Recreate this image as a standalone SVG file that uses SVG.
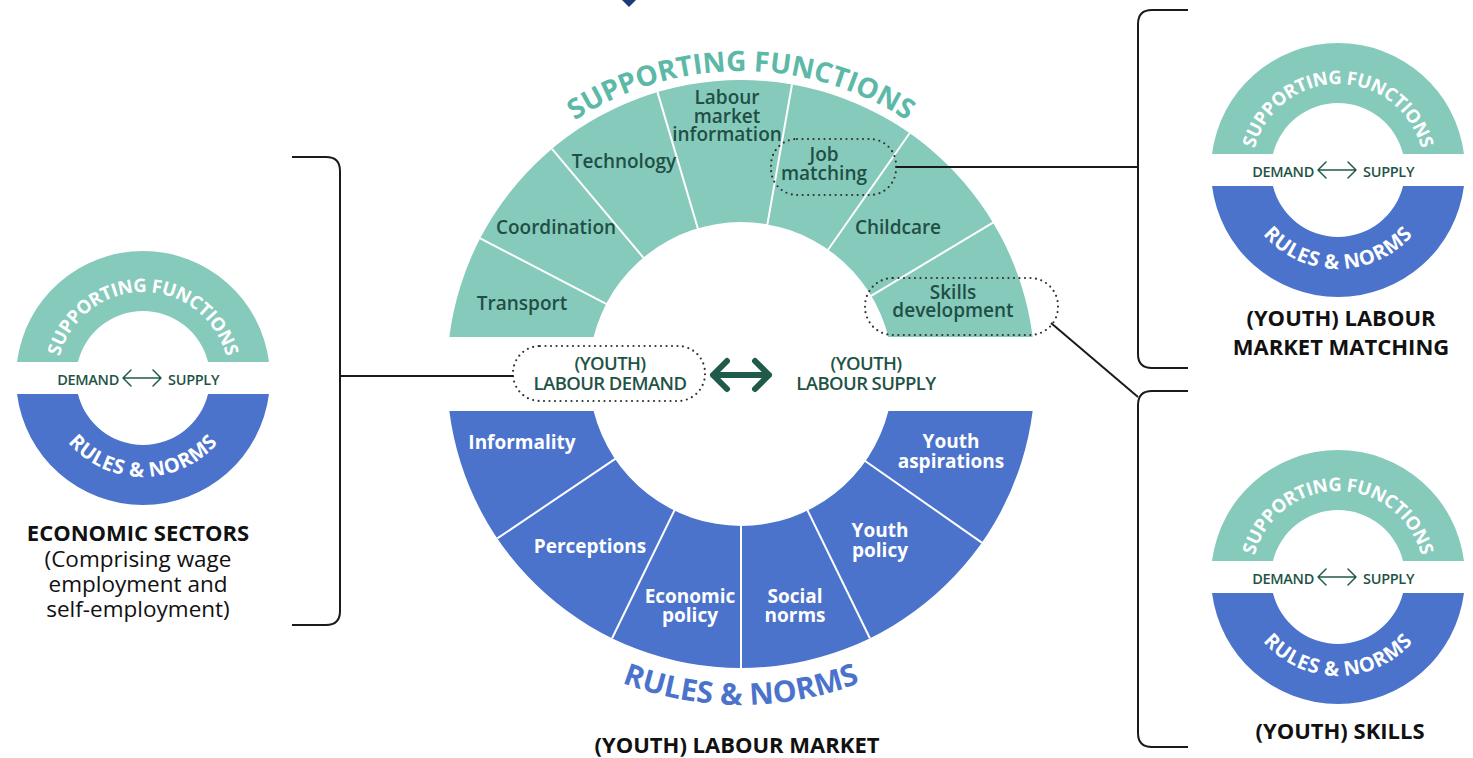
<svg xmlns="http://www.w3.org/2000/svg" xmlns:xlink="http://www.w3.org/1999/xlink" width="1473" height="758" viewBox="0 0 1473 758">
  <style>
    .teal { fill: #86cabb; }
    .blue { fill: #4b73cc; }
    .div { stroke: #ffffff; stroke-width: 2; fill: none; }
    .seg { font-family: "Open Sans", "Noto Sans", sans-serif; font-weight: 600; font-size: 19px; text-anchor: middle; }
    .segT { fill: #1f4f45; }
    .segB { fill: #ffffff; font-weight: 700; }
    .gap { font-family: "Open Sans", "Noto Sans", sans-serif; font-weight: 600; font-size: 18.5px; fill: #1f5346; text-anchor: middle; letter-spacing: -0.6px; }
    .titleT { font-family: "Open Sans", "Noto Sans", sans-serif; font-weight: 700; font-size: 28px; fill: #5cb9a7; }
    .titleB { font-family: "Open Sans", "Noto Sans", sans-serif; font-weight: 700; font-size: 30px; fill: #4b73cc; }
    .miniT { font-family: "Open Sans", "Noto Sans", sans-serif; font-weight: 700; font-size: 18.5px; fill: #ffffff; letter-spacing: -0.3px; }
    .miniB { font-family: "Open Sans", "Noto Sans", sans-serif; font-weight: 700; font-size: 20px; fill: #ffffff; letter-spacing: 0.6px; }
    .miniMid { font-family: "Open Sans", "Noto Sans", sans-serif; font-weight: 600; font-size: 14.5px; fill: #1f5346; letter-spacing: -0.3px; }
    .caption { font-family: "Open Sans", "Noto Sans", sans-serif; font-weight: 700; font-size: 22px; fill: #111111; text-anchor: middle; }
    .captionR { font-family: "Open Sans", "Noto Sans", sans-serif; font-weight: 400; font-size: 22.5px; fill: #111111; text-anchor: middle; }
    .dots { fill: none; stroke: #333333; stroke-width: 2.2; stroke-dasharray: 0 5.5; stroke-linecap: round; }
    .link { fill: none; stroke: #1a1a1a; stroke-width: 2; }
    .arrowBig { fill: none; stroke: #1f5a4b; stroke-width: 6; stroke-linecap: round; stroke-linejoin: round; }
    .arrowSmall { fill: none; stroke: #1f5a4b; stroke-width: 1.5; stroke-linecap: round; stroke-linejoin: round; }
  </style>
  <defs>
    <!-- arcs used as baselines for curved titles -->
    <path id="mainTop" d="M438,374 A303,303 0 0 1 1044,374"/>
    <path id="mainBot" d="M410,374 A331,331 0 0 0 1072,374"/>
    <path id="miniTop" d="M-86,0 A86,86 0 0 1 86,0"/>
    <path id="miniBot" d="M-99,0 A99,99 0 0 0 99,0"/>
  </defs>

  <rect width="1473" height="758" fill="#ffffff"/>

  <!-- small marker at the top edge -->
  <polygon points="621,-1 629,-9 637,-1 629,7" fill="#1e3a7a"/>

  <!-- central ring: supporting functions (top) and rules & norms (bottom) -->
  <g id="labour-market">
    <path class="teal" d="M449.34,337 A294,294 0 0 1 1032.66,337 L888.4,337 A152,152 0 0 0 593.6,337 Z"/>
    <path class="blue" d="M449.34,411 A294,294 0 0 0 1032.66,411 L888.4,411 A152,152 0 0 1 593.6,411 Z"/>
    <!-- segment dividers, top half -->
    <line class="div" x1="865.3" y1="299.3" x2="993.0" y2="222.6"/>
    <line class="div" x1="824.2" y1="255.2" x2="909.6" y2="133.2"/>
    <line class="div" x1="766.2" y1="231.2" x2="792.0" y2="84.5"/>
    <line class="div" x1="699.8" y1="235.0" x2="657.5" y2="92.1"/>
    <line class="div" x1="647.8" y1="262.9" x2="552.0" y2="148.8"/>
    <line class="div" x1="612.4" y1="307.1" x2="480.2" y2="238.3"/>
    <!-- segment dividers, bottom half -->
    <line class="div" x1="859.8" y1="457.2" x2="981.8" y2="542.6"/>
    <line class="div" x1="804.6" y1="504.3" x2="869.9" y2="638.2"/>
    <line class="div" x1="741" y1="519" x2="741" y2="668"/>
    <line class="div" x1="677.4" y1="504.3" x2="612.1" y2="638.2"/>
    <line class="div" x1="620.8" y1="455.1" x2="497.3" y2="538.4"/>

    <text class="titleT"><textPath href="#mainTop" startOffset="50%" text-anchor="middle">SUPPORTING FUNCTIONS</textPath></text>
    <text class="titleB"><textPath href="#mainBot" startOffset="50%" text-anchor="middle">RULES &amp; NORMS</textPath></text>

    <g id="transport"><text class="seg segT" x="522" y="310">Transport</text></g>
    <g id="coordination"><text class="seg segT" x="556" y="234">Coordination</text></g>
    <g id="technology"><text class="seg segT" x="624" y="168">Technology</text></g>
    <g id="labour-market-information"><text class="seg segT" x="727" y="104">Labour<tspan x="727" dy="19">market</tspan><tspan x="727" dy="18">information</tspan></text></g>
    <g id="job-matching">
      <rect class="dots" x="771" y="139" width="125" height="56" rx="26"/>
      <text class="seg segT" x="824" y="161">Job<tspan x="824" dy="19">matching</tspan></text>
    </g>
    <g id="childcare"><text class="seg segT" x="898" y="234">Childcare</text></g>
    <g id="skills-development">
      <rect class="dots" x="865" y="278" width="193" height="57" rx="28"/>
      <text class="seg segT" x="953" y="299">Skills<tspan x="953" dy="18">development</tspan></text>
    </g>

    <g id="informality"><text class="seg segB" x="522" y="449">Informality</text></g>
    <g id="perceptions"><text class="seg segB" x="590" y="553">Perceptions</text></g>
    <g id="economic-policy"><text class="seg segB" x="690" y="603">Economic<tspan x="690" dy="19">policy</tspan></text></g>
    <g id="social-norms"><text class="seg segB" x="795" y="603">Social<tspan x="795" dy="19">norms</tspan></text></g>
    <g id="youth-policy"><text class="seg segB" x="880" y="537">Youth<tspan x="880" dy="20">policy</tspan></text></g>
    <g id="youth-aspirations"><text class="seg segB" x="951" y="448">Youth<tspan x="951" dy="20">aspirations</tspan></text></g>

    <g id="labour-demand">
      <rect class="dots" x="513" y="346" width="192" height="55" rx="27"/>
      <text class="gap" x="610" y="370">(YOUTH)<tspan x="610" dy="20">LABOUR DEMAND</tspan></text>
    </g>
    <g id="labour-supply">
      <text class="gap" x="866" y="370">(YOUTH)<tspan x="866" dy="20">LABOUR SUPPLY</tspan></text>
    </g>
    <path class="arrowBig" d="M727,361 L713,375 L727,389 M713,375 H769 M755,361 L769,375 L755,389"/>

    <text class="caption" x="737" y="753">(YOUTH) LABOUR MARKET</text>
  </g>

  <!-- connectors and brackets -->
  <g id="connectors">
    <path class="link" d="M292,157 H326 Q340,157 340,171 V611 Q340,625 326,625 H292"/>
    <path class="link" d="M340,376 H513"/>
    <path class="link" d="M1188,10 H1152 Q1138,10 1138,24 V354 Q1138,368 1152,368 H1188"/>
    <path class="link" d="M896,167 H1138"/>
    <path class="link" d="M1188,391 H1152 Q1138,391 1138,405 V733 Q1138,747 1152,747 H1188"/>
    <path class="link" d="M1051,323 L1138,397"/>
  </g>

  <!-- economic sectors -->
  <g id="economic-sectors">
    <g transform="translate(143,378)">
      <path class="teal" d="M-125.99,-16 A127,127 0 0 1 125.99,-16 L65.06,-16 A67,67 0 0 0 -65.06,-16 Z"/>
      <path class="blue" d="M-125.99,16 A127,127 0 0 0 125.99,16 L65.06,16 A67,67 0 0 1 -65.06,16 Z"/>
      <text class="miniT"><textPath href="#miniTop" startOffset="50%" text-anchor="middle">SUPPORTING FUNCTIONS</textPath></text>
      <text class="miniB"><textPath href="#miniBot" startOffset="50%" text-anchor="middle">RULES &amp; NORMS</textPath></text>
      <text class="miniMid" x="-24" y="7" text-anchor="end">DEMAND</text>
      <path class="arrowSmall" d="M-12,-8 L-20,0 L-12,8 M-20,0 H18 M10,-8 L18,0 L10,8"/>
      <text class="miniMid" x="25" y="7">SUPPLY</text>
    </g>
    <text class="caption" x="138" y="541">ECONOMIC SECTORS</text>
    <text class="captionR" x="138" y="567">(Comprising wage<tspan x="138" dy="25">employment and</tspan><tspan x="138" dy="25">self-employment)</tspan></text>
  </g>

  <!-- labour market matching -->
  <g id="labour-market-matching">
    <g transform="translate(1338,170)">
      <path class="teal" d="M-125.99,-16 A127,127 0 0 1 125.99,-16 L65.06,-16 A67,67 0 0 0 -65.06,-16 Z"/>
      <path class="blue" d="M-125.99,16 A127,127 0 0 0 125.99,16 L65.06,16 A67,67 0 0 1 -65.06,16 Z"/>
      <text class="miniT"><textPath href="#miniTop" startOffset="50%" text-anchor="middle">SUPPORTING FUNCTIONS</textPath></text>
      <text class="miniB"><textPath href="#miniBot" startOffset="50%" text-anchor="middle">RULES &amp; NORMS</textPath></text>
      <text class="miniMid" x="-24" y="7" text-anchor="end">DEMAND</text>
      <path class="arrowSmall" d="M-12,-8 L-20,0 L-12,8 M-20,0 H18 M10,-8 L18,0 L10,8"/>
      <text class="miniMid" x="25" y="7">SUPPLY</text>
    </g>
    <text class="caption" x="1341" y="326">(YOUTH) LABOUR<tspan x="1341" dy="29">MARKET MATCHING</tspan></text>
  </g>

  <!-- skills -->
  <g id="skills">
    <g transform="translate(1338,577)">
      <path class="teal" d="M-125.99,-16 A127,127 0 0 1 125.99,-16 L65.06,-16 A67,67 0 0 0 -65.06,-16 Z"/>
      <path class="blue" d="M-125.99,16 A127,127 0 0 0 125.99,16 L65.06,16 A67,67 0 0 1 -65.06,16 Z"/>
      <text class="miniT"><textPath href="#miniTop" startOffset="50%" text-anchor="middle">SUPPORTING FUNCTIONS</textPath></text>
      <text class="miniB"><textPath href="#miniBot" startOffset="50%" text-anchor="middle">RULES &amp; NORMS</textPath></text>
      <text class="miniMid" x="-24" y="7" text-anchor="end">DEMAND</text>
      <path class="arrowSmall" d="M-12,-8 L-20,0 L-12,8 M-20,0 H18 M10,-8 L18,0 L10,8"/>
      <text class="miniMid" x="25" y="7">SUPPLY</text>
    </g>
    <text class="caption" x="1340" y="739">(YOUTH) SKILLS</text>
  </g>
</svg>
